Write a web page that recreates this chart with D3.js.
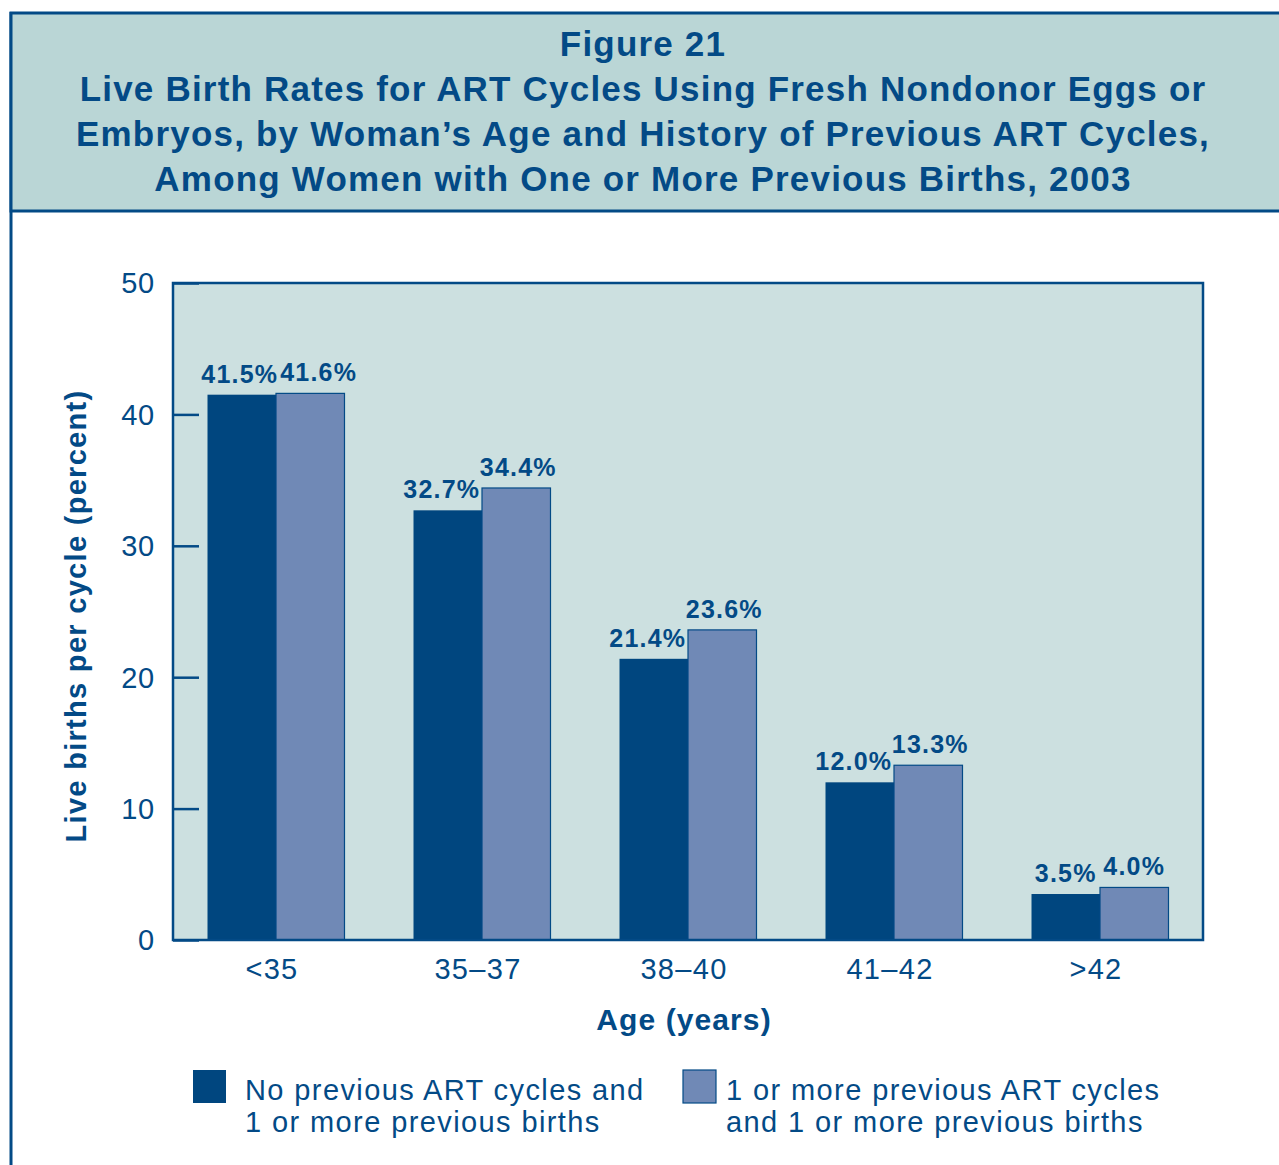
<!DOCTYPE html>
<html>
<head>
<meta charset="utf-8">
<script src="https://cdn.jsdelivr.net/npm/d3@7"></script>
<style>
  html, body { margin: 0; padding: 0; background: #fff; }
  svg { display: block; font-family: "Liberation Sans", Arial, Helvetica, sans-serif; }
</style>
</head>
<body>
<svg id="chart" width="1279" height="1165"></svg>
<script>
// ---- Data ----
const categories = ["<35", "35\u201337", "38\u201340", "41\u201342", ">42"];
const noPreviousART = [41.5, 32.7, 21.4, 12.0, 3.5];
const withPreviousART = [41.6, 34.4, 23.6, 13.3, 4.0];
const yTickValues = [0, 10, 20, 30, 40, 50];
const seriesNames = [
  ["No previous ART cycles and", "1 or more previous births"],
  ["1 or more previous ART cycles", "and 1 or more previous births"]
];
const titleLines = [
  "Figure 21",
  "Live Birth Rates for ART Cycles Using Fresh Nondonor Eggs or",
  "Embryos, by Woman\u2019s Age and History of Previous ART Cycles,",
  "Among Women with One or More Previous Births, 2003"
];

// ---- Styles ----
const NAVY = "#034a86";
const HEADER_BG = "#bad6d6";
const PLOT_BG = "#cce0e0";
const DARK = "#00467f";
const LIGHT = "#7089b6";
const LS = "1.3px";

const svg = d3.select("#chart");

// Frame & header
svg.append("line").attr("x1", 11).attr("x2", 11).attr("y1", 12).attr("y2", 1165)
  .attr("stroke", NAVY).attr("stroke-width", 3);
svg.append("rect").attr("x", 11).attr("y", 13).attr("width", 1290).attr("height", 198)
  .attr("fill", HEADER_BG).attr("stroke", NAVY).attr("stroke-width", 3);

const title = svg.append("g").attr("fill", NAVY).attr("font-weight", "bold")
  .attr("text-anchor", "middle");
titleLines.forEach((t, i) => {
  title.append("text").attr("x", 643).attr("y", 56 + i * 45)
    .attr("font-size", 35).attr("letter-spacing", "1.2px").text(t);
});

// ---- Plot ----
const plot = { left: 173, top: 283, right: 1203, bottom: 940 };

const x = d3.scaleBand().domain(categories)
  .range([plot.left, plot.right]).paddingInner(0.335).paddingOuter(0.1675);
const xSub = d3.scaleBand().domain([0, 1]).range([0, x.bandwidth()]);
const y = d3.scaleLinear().domain([0, 50]).range([plot.bottom, plot.top]);

svg.append("rect").attr("x", plot.left).attr("y", plot.top)
  .attr("width", plot.right - plot.left).attr("height", plot.bottom - plot.top)
  .attr("fill", PLOT_BG);

const series = [noPreviousART, withPreviousART];
const colors = [DARK, LIGHT];
const labelShift = [-6, 2];
const labelNodes = [[], []];

series.forEach((vals, s) => {
  const g = svg.append("g");
  g.selectAll("rect").data(vals).join("rect")
    .attr("x", (d, i) => x(categories[i]) + xSub(s))
    .attr("y", d => y(d))
    .attr("width", xSub.bandwidth())
    .attr("height", d => y(0) - y(d))
    .attr("fill", colors[s])
    .attr("stroke", NAVY).attr("stroke-width", s === 1 ? 1.2 : 0);
  g.selectAll("text").data(vals).join("text")
    .attr("x", (d, i) => x(categories[i]) + xSub(s) + xSub.bandwidth() / 2 + (d >= 10 ? labelShift[s] : 0))
    .attr("y", d => y(d) - 12)
    .attr("text-anchor", "middle")
    .attr("font-size", 25).attr("font-weight", "bold").attr("fill", NAVY)
    .attr("letter-spacing", "1.2px")
    .text(d => d.toFixed(1) + "%")
    .each(function () { labelNodes[s].push(this); });
});

// Push apart labels that sit at the same height and would collide
categories.forEach((c, i) => {
  const a = labelNodes[0][i], b = labelNodes[1][i];
  const ba = a.getBBox(), bb = b.getBBox();
  const sameRow = Math.abs(ba.y - bb.y) < ba.height * 0.5;
  const gap = 6;
  if (sameRow && ba.x + ba.width + gap > bb.x) {
    const delta = ba.x + ba.width + gap - bb.x;
    d3.select(a).attr("x", +a.getAttribute("x") + 4);
    d3.select(b).attr("x", +b.getAttribute("x") + delta);
  }
});

// Plot border
svg.append("rect").attr("x", plot.left).attr("y", plot.top)
  .attr("width", plot.right - plot.left).attr("height", plot.bottom - plot.top)
  .attr("fill", "none").attr("stroke", NAVY).attr("stroke-width", 2.5);

// Y axis (ticks inward)
const yAxis = d3.axisRight(y).tickValues(yTickValues).tickSize(26).tickFormat("");
const yg = svg.append("g").attr("transform", `translate(${plot.left},0)`).call(yAxis);
yg.select(".domain").remove();
yg.selectAll("line").attr("stroke", NAVY).attr("stroke-width", 2.5);
svg.append("g").selectAll("text").data(yTickValues).join("text")
  .attr("x", 155).attr("y", d => y(d)).attr("dy", "0.36em")
  .attr("text-anchor", "end").attr("font-size", 29).attr("fill", NAVY)
  .attr("letter-spacing", "0.8px")
  .text(d => d);

// X axis labels
const xAxis = d3.axisBottom(x).tickSize(0).tickPadding(18);
const xg = svg.append("g").attr("transform", `translate(0,${plot.bottom})`).call(xAxis);
xg.select(".domain").remove();
xg.selectAll("text").attr("font-size", 29).attr("fill", NAVY)
  .attr("font-family", "Liberation Sans, Arial, sans-serif")
  .attr("letter-spacing", LS).attr("dx", -4);

// Axis titles
svg.append("text").attr("x", 684).attr("y", 1030).attr("text-anchor", "middle")
  .attr("font-size", 30).attr("font-weight", "bold").attr("fill", NAVY)
  .attr("letter-spacing", "1.1px").text("Age (years)");
svg.append("text").attr("transform", "translate(86,616) rotate(-90)").attr("text-anchor", "middle")
  .attr("font-size", 29).attr("font-weight", "bold").attr("fill", NAVY)
  .attr("letter-spacing", LS)
  .text("Live births per cycle (percent)");

// Legend
const legendX = [193, 683];
series.forEach((_, s) => {
  const g = svg.append("g").attr("transform", `translate(${legendX[s]},1070)`);
  g.append("rect").attr("width", 33).attr("height", 33).attr("fill", colors[s])
    .attr("stroke", NAVY).attr("stroke-width", s === 1 ? 1.2 : 0);
  seriesNames[s].forEach((line, j) => {
    g.append("text").attr("x", s === 0 ? 52 : 43).attr("y", 30 + j * 32)
      .attr("font-size", 29).attr("fill", NAVY).attr("letter-spacing", "1.4px").text(line);
  });
});
</script>
</body>
</html>
